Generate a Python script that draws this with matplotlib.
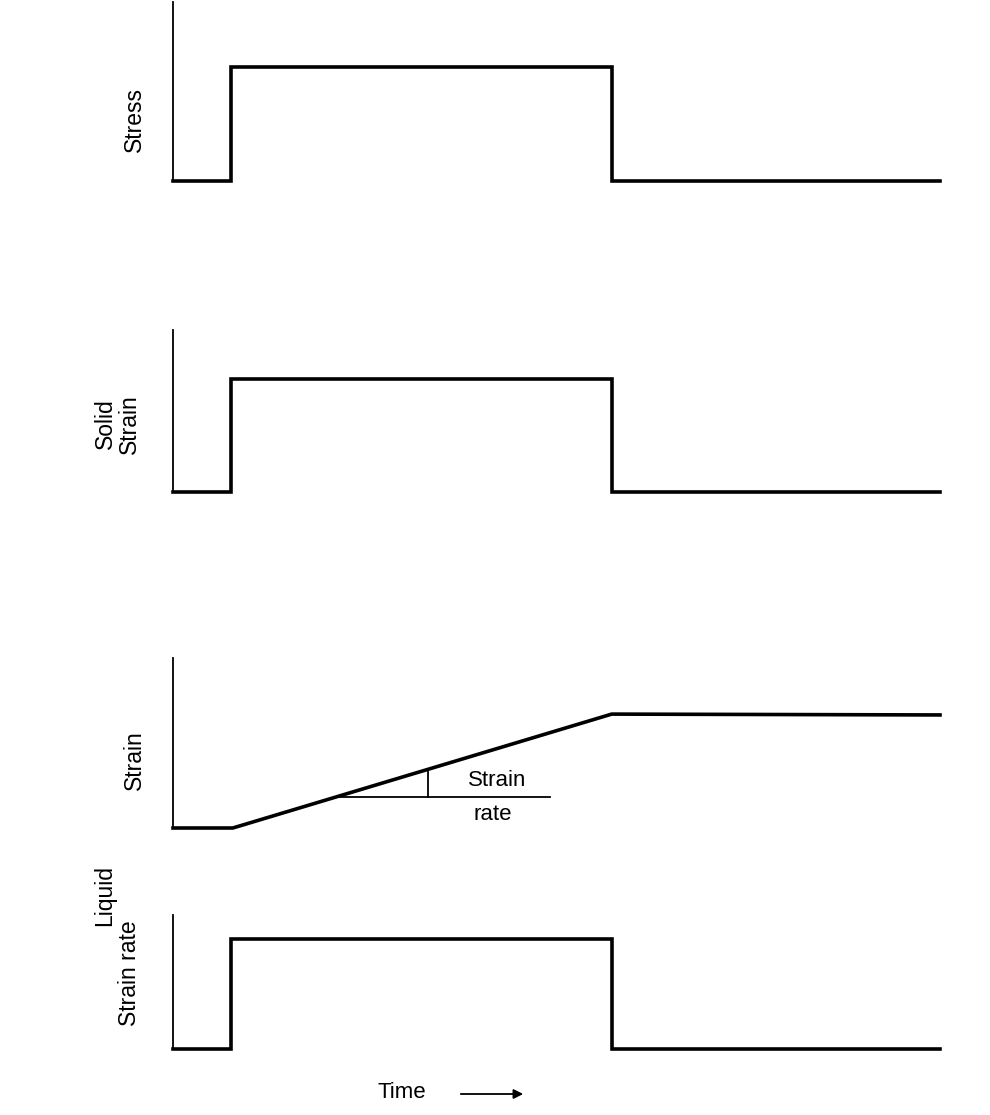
import matplotlib
matplotlib.use("Agg")
import matplotlib.pyplot as plt

plt.rcParams['font.family'] = ['Liberation Sans', 'DejaVu Sans']

# tiempos (fraccion del eje de tiempo)
t_on = 0.075
t_off = 0.572
t_end = 1.0
t_ramp = 0.078

# panel 1: esfuerzo
stress_t = [0, t_on, t_on, t_off, t_off, t_end]
stress_y = [0, 0, 0.637, 0.637, 0, 0]

# panel 2: deformacion del solido
solid_t = [0, t_on, t_on, t_off, t_off, t_end]
solid_y = [0, 0, 0.70, 0.70, 0, 0]

# panel 3: deformacion del liquido
strain_t = [0, t_ramp, t_off, t_end]
strain_y = [0, 0, 0.67, 0.665]
rate_h_t = [0.215, 0.4915]
rate_h_y = [0.182, 0.182]
rate_v_t = 0.332

# panel 4: velocidad de deformacion
rate_t = [0, t_on, t_on, t_off, t_off, t_end]
rate_y = [0, 0, 0.82, 0.82, 0, 0]

W, H = 990, 1115
fig = plt.figure(figsize=(W / 100, H / 100), dpi=100)
fs = 16.5


def panel(top, bottom, left=173, right=940):
    ax = fig.add_axes([left / W, 1 - bottom / H, (right - left) / W, (bottom - top) / H])
    ax.set_xlim(0, 1)
    ax.set_ylim(0, 1)
    for s in ['top', 'right', 'bottom']:
        ax.spines[s].set_visible(False)
    ax.spines['left'].set_linewidth(1.3)
    ax.set_xticks([])
    ax.set_yticks([])
    ax.patch.set_alpha(0)
    return ax


def ylabel(x, y, txt):
    fig.text(x / W, 1 - y / H, txt, rotation=90, ha='center', va='center', fontsize=fs)


ax1 = panel(2, 181)
ax1.plot(stress_t, stress_y, color='black', lw=2.6, clip_on=False, solid_joinstyle='miter')
ylabel(134, 120, "Stress")

ax2 = panel(330, 492)
ax2.plot(solid_t, solid_y, color='black', lw=2.6, clip_on=False, solid_joinstyle='miter')
ylabel(105, 424, "Solid")
ylabel(129, 424, "Strain")

ax3 = panel(658, 828)
ax3.plot(strain_t, strain_y, color='black', lw=2.6, clip_on=False, solid_joinstyle='miter')
ax3.plot(rate_h_t, rate_h_y, color='black', lw=1.3)
v_top = strain_y[1] + (rate_v_t - strain_t[1]) / (strain_t[2] - strain_t[1]) * (strain_y[2] - strain_y[1])
ax3.plot([rate_v_t, rate_v_t], [rate_h_y[0], v_top], color='black', lw=1.3)
ax3.text(0.423, 0.22, "Strain", ha='center', va='bottom', fontsize=fs - 0.5)
ax3.text(0.417, 0.14, "rate", ha='center', va='top', fontsize=fs - 0.5)
ylabel(134, 760, "Strain")

ax4 = panel(915, 1049)
ax4.plot(rate_t, rate_y, color='black', lw=2.6, clip_on=False, solid_joinstyle='miter')
ylabel(105, 895, "Liquid")
ylabel(129, 973, "Strain rate")

fig.text(402 / W, 1 - 1092 / H, "Time", ha='center', va='center', fontsize=fs - 0.5)
fig.add_artist(matplotlib.patches.FancyArrowPatch(
    (458 / W, 1 - 1094 / H), (526 / W, 1 - 1094 / H), transform=fig.transFigure,
    arrowstyle='-|>', mutation_scale=14, color='black', lw=1.3))

fig.savefig("out.png", dpi=100, facecolor='white')
